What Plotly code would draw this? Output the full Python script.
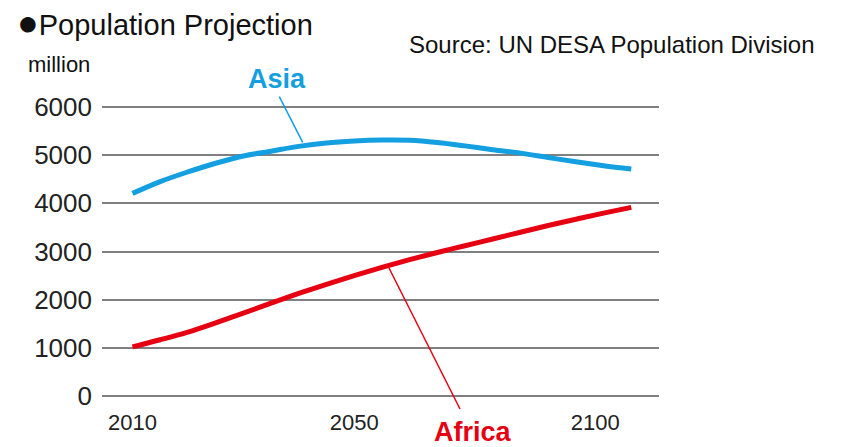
import plotly.graph_objects as go

# ---- data ----
years = [2010, 2015, 2020, 2025, 2030, 2035, 2040, 2045, 2050, 2055,
         2060, 2065, 2070, 2075, 2080, 2085, 2090, 2095, 2100]
asia = [4205, 4450, 4650, 4830, 4980, 5080, 5180, 5250, 5290, 5310,
        5305, 5260, 5190, 5110, 5040, 4950, 4860, 4780, 4710]
africa = [1023, 1170, 1330, 1520, 1720, 1930, 2130, 2320, 2500, 2670,
          2830, 2980, 3120, 3260, 3400, 3540, 3670, 3795, 3915]
y_ticks = [0, 1000, 2000, 3000, 4000, 5000, 6000]
x_tick_pos = [2010, 2050, 2093.5]
x_tick_text = ["2010", "2050", "2100"]

ASIA_C = "#139FE0"
AFRICA_C = "#E60012"
FONT = "Liberation Sans, Arial, sans-serif"

W, H = 843, 447
ML, MR, MT, MB = 102, 184, 102, 46
PW, PH = W - ML - MR, H - MT - MB


def px(x):
    return (x - ML) / PW


def py(y):
    return (H - MB - y) / PH


fig = go.Figure()
fig.add_trace(go.Scatter(x=years, y=asia, mode="lines", name="Asia",
                         line=dict(color=ASIA_C, width=5, shape="spline")))
fig.add_trace(go.Scatter(x=years, y=africa, mode="lines", name="Africa",
                         line=dict(color=AFRICA_C, width=5, shape="spline")))

shapes = [
    dict(type="line", xref="paper", yref="paper",
         x0=px(279.3), y0=py(96.7), x1=px(302.7), y1=py(142.3),
         line=dict(color=ASIA_C, width=1.5)),
    dict(type="line", xref="paper", yref="paper",
         x0=px(389), y0=py(268), x1=px(460), y1=py(409),
         line=dict(color=AFRICA_C, width=1.5)),
]

annotations = [
    dict(text="<span style='font-size:36px'>●</span>Population Projection",
         xref="paper", yref="paper",
         x=px(15), y=py(0), xanchor="left", yanchor="top",
         showarrow=False, font=dict(family=FONT, size=29, color="#111")),
    dict(text="million", xref="paper", yref="paper",
         x=px(26), y=py(64), xanchor="left", yanchor="middle",
         showarrow=False, font=dict(family=FONT, size=22, color="#111")),
    dict(text="Source: UN DESA Population Division", xref="paper", yref="paper",
         x=px(817), y=py(45), xanchor="right", yanchor="middle",
         showarrow=False, font=dict(family=FONT, size=24, color="#111")),
    dict(text="<b>Asia</b>", xref="paper", yref="paper",
         x=px(277), y=py(79), xanchor="center", yanchor="middle",
         showarrow=False, font=dict(family=FONT, size=27, color=ASIA_C)),
    dict(text="<b>Africa</b>", xref="paper", yref="paper",
         x=px(472.5), y=py(432), xanchor="center", yanchor="middle",
         showarrow=False, font=dict(family=FONT, size=27, color=AFRICA_C)),
]

fig.update_layout(
    width=W, height=H,
    margin=dict(l=ML, r=MR, t=MT, b=MB),
    paper_bgcolor="white", plot_bgcolor="white",
    showlegend=False,
    shapes=shapes, annotations=annotations,
    xaxis=dict(range=[2004.5, 2105], tickvals=x_tick_pos, ticktext=x_tick_text,
               showgrid=False, zeroline=False, showline=False, ticks="",
               ticklabelstandoff=6,
               tickfont=dict(family=FONT, size=22, color="#222")),
    yaxis=dict(range=[-100, 6100], tickvals=y_ticks, showgrid=True,
               gridcolor="#808080", gridwidth=2, zeroline=False, showline=False,
               ticks="", ticklabelstandoff=9,
               tickfont=dict(family=FONT, size=26, color="#222")),
)

fig.write_html("out.html")
